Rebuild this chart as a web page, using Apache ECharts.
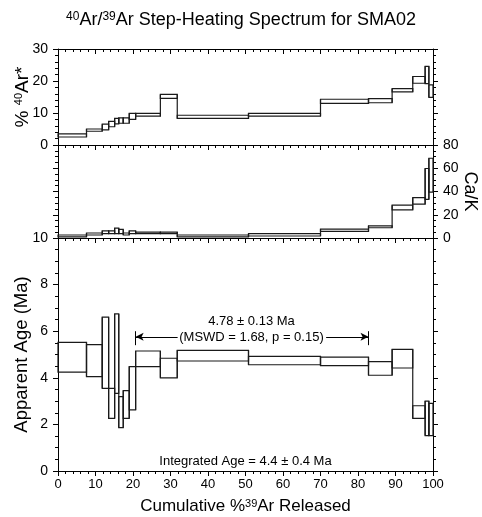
<!DOCTYPE html>
<html>
<head>
<meta charset="utf-8">
<script src="https://cdn.jsdelivr.net/npm/echarts@6/dist/echarts.min.js"></script>
<style>
html, body { margin: 0; padding: 0; background: #fff; }
#main { width: 482px; height: 517px; }
</style>
</head>
<body>
<div id="main"></div>
<script>
// cumulative %39Ar at the edge of each heating step
var stepEdges = [0, 7.6, 11.8, 13.5, 15.1, 16.2, 17.4, 19.0, 20.7, 27.3, 31.8, 50.8, 70.0, 82.8, 89.1, 94.6, 97.9, 98.9, 100];

// % 40Ar* (radiogenic), low / high of each box
var arLow  = [2.5, 4.3, 4.7, 5.7, 6.6, 6.8, 6.8, 8.0, 9.0, 14.6, 8.3, 9.0, 13.0, 13.2, 16.6, 19.3, 19.2, 14.9];
var arHigh = [3.5, 5.0, 6.5, 7.4, 8.3, 8.5, 8.5, 9.9, 9.9, 15.8, 9.3, 9.9, 14.3, 14.5, 17.6, 21.4, 24.6, 18.8];

// Ca/K
var caLow  = [1.0, 2.6, 3.7, 3.7, 3.7, 3.7, 2.6, 3.7, 3.7, 3.7, 1.0, 1.7, 5.7, 8.8, 24.2, 29.1, 33.3, 39.5];
var caHigh = [2.6, 4.3, 6.2, 6.2, 8.5, 7.4, 4.3, 6.2, 5.1, 5.1, 2.6, 3.7, 7.7, 10.5, 28.2, 34.7, 59.8, 68.6];

// apparent age (Ma)
var ageLow  = [4.24, 4.05, 3.55, 2.26, 3.33, 1.86, 2.26, 2.62, 4.48, 4.00, 4.72, 4.56, 4.52, 4.11, 4.42, 2.26, 1.52, 1.52];
var ageHigh = [5.52, 5.42, 6.60, 3.55, 6.74, 3.19, 3.45, 4.48, 5.15, 4.84, 5.18, 4.92, 4.89, 4.69, 5.22, 2.80, 3.00, 2.90];

// plateau bracket
var plateauStart = 20.7;
var plateauEnd = 82.8;
var plateauY = 5.76;
var plateauTickLo = 5.4;
var plateauTickHi = 6.0;
var plateauGap = [31.9, 71.5];   // where the arrow lines stop around the text

var notes = [
    { x: 51.6, y: 6.44, text: '4.78 \u00b1 0.13 Ma' },
    { x: 51.6, y: 5.74, text: '(MSWD = 1.68, p = 0.15)' },
    { x: 50.0, y: 0.43, text: 'Integrated Age = 4.4 \u00b1 0.4 Ma' }
];

var FONT = '"Liberation Sans", Arial, Helvetica, sans-serif';
var INK = '#1a1a1a';

function boxes(lo, hi) {
    return lo.map(function (v, i) {
        return [stepEdges[i], stepEdges[i + 1], v, hi[i]];
    });
}

// each step is a box; the vertical at its left edge also joins it to the previous step
function renderBox(params, api) {
    var i = params.dataIndexInside;
    var lo = api.value(2), hi = api.value(3);
    var a = api.coord([api.value(0), hi]);
    var b = api.coord([api.value(1), lo]);
    var st = { fill: 'none', stroke: INK, lineWidth: 1.2 };
    var kids = [{
        type: 'rect',
        shape: { x: a[0], y: a[1], width: b[0] - a[0], height: b[1] - a[1] },
        style: st
    }];
    if (i > 0) {
        var pLo = Math.min(lo, api.value(2, i - 1));
        var pHi = Math.max(hi, api.value(3, i - 1));
        var c = api.coord([api.value(0), pLo]);
        var d = api.coord([api.value(0), pHi]);
        kids.push({ type: 'line', shape: { x1: c[0], y1: c[1], x2: d[0], y2: d[1] }, style: st });
    }
    return { type: 'group', children: kids };
}

function renderNote(params, api) {
    var p = api.coord([api.value(0), api.value(1)]);
    return {
        type: 'text',
        x: p[0],
        y: p[1],
        style: {
            text: notes[params.dataIndex].text,
            fontSize: 13,
            fontFamily: FONT,
            fill: '#000',
            align: 'center',
            verticalAlign: 'middle'
        }
    };
}

var line = { show: true, onZero: false, lineStyle: { color: '#000', width: 1 } };

function xAx(grid, opts) {
    var o = {
        gridIndex: grid, type: 'value', min: 0, max: 100, interval: 10,
        axisLine: line,
        axisTick: { show: true, length: 5, lineStyle: { color: '#000' } },
        minorTick: { show: true, splitNumber: 5, length: 3, lineStyle: { color: '#000' } },
        axisLabel: { show: false },
        splitLine: { show: false },
        nameMoveOverlap: false
    };
    return Object.assign(o, opts || {});
}

function yAx(grid, min, max, step, minorSplit, opts) {
    var o = {
        gridIndex: grid, type: 'value', min: min, max: max, interval: step,
        axisLine: line,
        axisTick: { show: true, length: 5, lineStyle: { color: '#000' } },
        minorTick: { show: true, splitNumber: minorSplit, length: 3, lineStyle: { color: '#000' } },
        axisLabel: { show: false },
        splitLine: { show: false },
        nameMoveOverlap: false
    };
    return Object.assign(o, opts || {});
}

var yLabel = { show: true, fontSize: 14, fontFamily: FONT, color: '#000', margin: 10 };
var supStyle = { fontSize: 11, verticalAlign: 'top', fontFamily: FONT, color: '#000' };

var chart = echarts.init(document.getElementById('main'), null, { renderer: 'canvas' });

var option = {
    animation: false,
    backgroundColor: '#fff',
    title: {
        text: '{sup|40}Ar/{sup|39}Ar Step-Heating Spectrum for SMA02',
        left: 'center',
        top: 6,
        textStyle: {
            fontSize: 18, fontWeight: 'normal', color: '#000', fontFamily: FONT,
            rich: { sup: { fontSize: 12, verticalAlign: 'top', fontFamily: FONT, color: '#000' } }
        }
    },
    grid: [
        { left: 58, top: 49, width: 375, height: 96, outerBoundsMode: 'none', containLabel: false },
        { left: 58, top: 145, width: 375, height: 93, outerBoundsMode: 'none', containLabel: false },
        { left: 58, top: 238, width: 375, height: 233, outerBoundsMode: 'none', containLabel: false }
    ],
    xAxis: [
        xAx(0, { position: 'bottom' }),
        xAx(0, { position: 'top', axisTick: { show: true, inside: true, length: 5, lineStyle: { color: '#000' } },
                 minorTick: { show: true, splitNumber: 5, length: 3, lineStyle: { color: '#000' } } }),
        xAx(1, { position: 'bottom' }),
        xAx(2, {
            position: 'bottom',
            axisLabel: { show: true, fontSize: 13, fontFamily: FONT, color: '#000', margin: 7 },
            name: 'Cumulative %{sup|39}Ar Released',
            nameLocation: 'middle',
            nameGap: 27,
            nameTextStyle: {
                fontSize: 17, fontFamily: FONT, color: '#000',
                rich: { sup: supStyle }
            }
        })
    ],
    yAxis: [
        yAx(0, 0, 30, 10, 5, {
            position: 'left', axisLabel: yLabel,
            name: '% {sup|40}Ar*', nameLocation: 'middle', nameGap: 26,
            nameTextStyle: {
                fontSize: 19, fontFamily: FONT, color: '#000',
                rich: { sup: supStyle }
            }
        }),
        yAx(0, 0, 30, 10, 5, { position: 'right' }),
        yAx(1, 0, 80, 20, 4, { position: 'left' }),
        yAx(1, 0, 80, 20, 4, {
            position: 'right', axisLabel: yLabel,
            name: 'Ca/K', nameLocation: 'middle', nameGap: 28, nameRotate: -90,
            nameTextStyle: { fontSize: 18, fontFamily: FONT, color: '#000' }
        }),
        yAx(2, 0, 10, 2, 4, {
            position: 'left', axisLabel: yLabel,
            name: 'Apparent Age (Ma)', nameLocation: 'middle', nameGap: 27,
            nameTextStyle: { fontSize: 18.5, fontFamily: FONT, color: '#000' }
        }),
        yAx(2, 0, 10, 2, 4, { position: 'right' })
    ],
    series: [
        {
            name: 'Ar40', type: 'custom', xAxisIndex: 0, yAxisIndex: 0,
            renderItem: renderBox, encode: { x: [0, 1], y: [2, 3] },
            data: boxes(arLow, arHigh), silent: true
        },
        {
            name: 'CaK', type: 'custom', xAxisIndex: 2, yAxisIndex: 2,
            renderItem: renderBox, encode: { x: [0, 1], y: [2, 3] },
            data: boxes(caLow, caHigh), silent: true
        },
        {
            name: 'Age', type: 'custom', xAxisIndex: 3, yAxisIndex: 4,
            renderItem: renderBox, encode: { x: [0, 1], y: [2, 3] },
            data: boxes(ageLow, ageHigh), silent: true,
            markLine: {
                silent: true,
                symbol: ['none', 'arrow'],
                symbolSize: [6, 8],
                label: { show: false },
                lineStyle: { color: '#000', width: 1, type: 'solid' },
                data: [
                    [{ coord: [plateauGap[0], plateauY] }, { coord: [plateauStart, plateauY] }],
                    [{ coord: [plateauGap[1], plateauY] }, { coord: [plateauEnd, plateauY] }],
                    [{ coord: [plateauStart, plateauTickLo], symbol: 'none' }, { coord: [plateauStart, plateauTickHi], symbol: 'none' }],
                    [{ coord: [plateauEnd, plateauTickLo], symbol: 'none' }, { coord: [plateauEnd, plateauTickHi], symbol: 'none' }]
                ]
            }
        },
        {
            name: 'notes', type: 'custom', xAxisIndex: 3, yAxisIndex: 4,
            renderItem: renderNote,
            data: notes.map(function (n) { return [n.x, n.y]; }),
            silent: true
        }
    ]
};

chart.setOption(option);
window.addEventListener('resize', chart.resize);
</script>
</body>
</html>
